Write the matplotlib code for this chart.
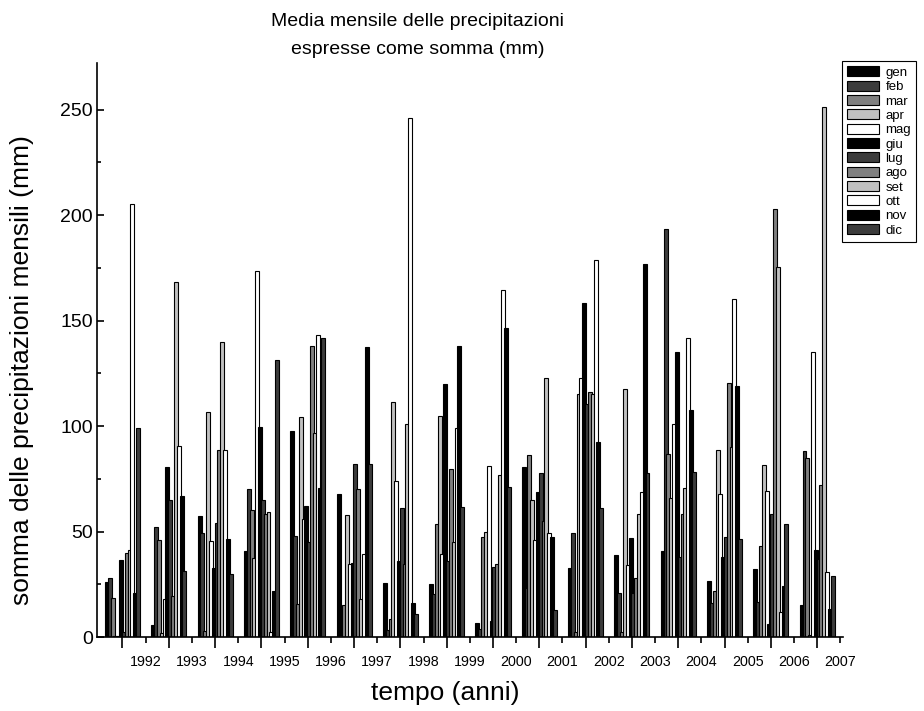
import numpy as np
import matplotlib
matplotlib.use("Agg")
import matplotlib.pyplot as plt

plt.rcParams['font.family'] = ['Liberation Sans', 'DejaVu Sans']

years = [str(y) for y in range(1992, 2008)]
months = ['gen', 'feb', 'mar', 'apr', 'mag', 'giu', 'lug', 'ago', 'set', 'ott', 'nov', 'dic']

# monthly precipitation sums (mm), one list per month, 1992..2007
gen = [26, 5.9, 57.6, 40.8, 97.8, 68, 25.6, 25, 6.7, 80.4, 32.9, 39.1, 40.8, 26.5, 32.4, 15.2]
feb = [28, 52.3, 49.2, 70.3, 48, 1, 3.4, 20.6, 4, 23.3, 49.2, 21.1, 193.5, 16, 16.5, 88]
mar = [18.5, 46, 2.9, 60.2, 15.5, 15.2, 8.4, 53.4, 47.5, 86.5, 2.5, 2.2, 86.8, 21.6, 43, 84.8]
apr = [0.5, 2, 106.7, 37.6, 104.2, 57.8, 111.2, 104.8, 49.7, 64.9, 115.1, 117.5, 66, 88.8, 81.7, 1.2]
mag = [0.5, 18, 45.5, 173.6, 56, 34.6, 73.8, 39.6, 80.9, 46, 123, 34, 100.8, 67.8, 69.1, 135.2]
giu = [36.7, 80.4, 32.5, 99.8, 61.9, 35, 36.2, 120, 7.6, 68.6, 158.4, 46.9, 135.2, 37.9, 6.2, 41.3]
lug = [2.5, 64.9, 54.3, 64.9, 45, 82, 61.2, 36.2, 33.4, 78, 110.7, 21.1, 37.9, 47.5, 58.5, 37.1]
ago = [40, 19.4, 88.5, 58.5, 138.2, 70.3, 34.6, 79.7, 34.6, 55.1, 116.3, 28.1, 58.5, 120.5, 203.1, 72.1]
sett = [41.3, 168.5, 139.7, 59.3, 96.9, 18, 100.8, 45.2, 77, 122.7, 115, 58.1, 70.8, 90.2, 175.6, 251.1]
ott = [205.5, 90.5, 88.5, 2.5, 143.3, 39.6, 246, 99.1, 164.7, 49.2, 178.7, 68.6, 141.9, 160.1, 12.1, 30.8]
nov = [20.7, 67, 46.4, 21.9, 70.5, 137.7, 16, 138, 146.6, 47.5, 92.4, 177, 107.5, 118.8, 24.4, 13.5]
dic = [99.3, 31.2, 29.8, 131.5, 142, 82.2, 11, 61.5, 71.1, 13, 61.2, 78, 78.4, 46.7, 53.4, 29]

series = [gen, feb, mar, apr, mag, giu, lug, ago, sett, ott, nov, dic]
shades = ['#000000', '#3c3c3c', '#808080', '#c0c0c0', '#ffffff']

fig = plt.figure(figsize=(9.24, 7.11), dpi=100)
ax = fig.add_axes([0.105, 0.104, 0.807, 0.807])

x = np.arange(len(years))
step = 0.061
width = 0.086
for i, (name, vals) in enumerate(zip(months, series)):
    ax.bar(x + (i - 5.5) * step, vals, width=width, color=shades[i % 5],
           edgecolor='black', linewidth=0.8, label=name)

ax.set_xlim(-0.55, 15.55)
ax.set_ylim(0, 272)
ax.set_yticks(range(0, 251, 50))
ax.set_yticks(range(0, 251, 25), minor=True)
ax.set_xticks(x, labels=[''] * len(x))
ax.set_xticks(x + 0.5, labels=years, minor=True)

for s in ['top', 'right']:
    ax.spines[s].set_visible(False)
for s in ['left', 'bottom']:
    ax.spines[s].set_linewidth(1.2)

ax.tick_params(axis='x', which='major', direction='out', length=8, width=1.2)
ax.tick_params(axis='x', which='minor', direction='out', length=4, width=1.2, labelsize=10.3, pad=9)
ax.tick_params(axis='y', which='major', direction='in', length=5, width=1.2, labelsize=14, pad=3)
ax.tick_params(axis='y', which='minor', direction='in', length=3, width=1.2)

# titles and axis labels placed as in the reference (slightly off-centre)
fig.text(0.452, 1 - 22 / 711, 'Media mensile delle precipitazioni', fontsize=14, ha='center', va='center')
fig.text(0.452, 1 - 50 / 711, 'espresse come somma (mm)', fontsize=14, ha='center', va='center')
fig.text(445 / 924, 1 - 693 / 711, 'tempo (anni)', fontsize=19, ha='center', va='center')
fig.text(22 / 924, 1 - 370 / 711, 'somma delle precipitazioni mensili (mm)', fontsize=19,
         ha='center', va='center', rotation=90)

leg = fig.legend(loc='upper left', bbox_to_anchor=(842 / 924, 1 - 61 / 711), borderaxespad=0,
                 fontsize=9.5, handlelength=2.4, handleheight=0.8, labelspacing=0.13,
                 handletextpad=0.5, borderpad=0.4, fancybox=False, framealpha=1)
leg.get_frame().set_edgecolor('black')
leg.get_frame().set_linewidth(0.8)

fig.savefig('out.png', dpi=100)
